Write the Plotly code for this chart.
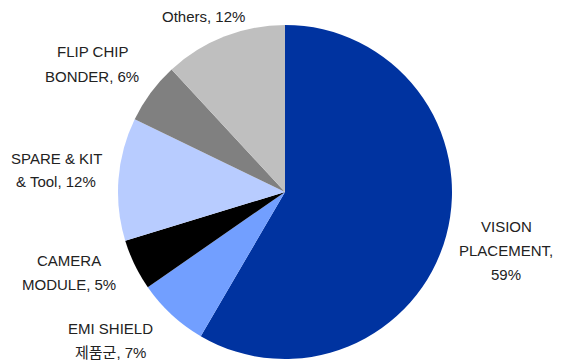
import plotly.graph_objects as go

labels = ["VISION PLACEMENT", "EMI SHIELD 제품군", "CAMERA MODULE", "SPARE & KIT & Tool", "FLIP CHIP BONDER", "Others"]
values = [59, 7, 5, 12, 6, 12]
label_lines = [
    ["VISION", "PLACEMENT,", "59%"],
    ["EMI SHIELD", "제품군, 7%"],
    ["CAMERA", "MODULE, 5%"],
    ["SPARE & KIT", "& Tool, 12%"],
    ["FLIP CHIP", "BONDER, 6%"],
    ["Others, 12%"],
]
colors = ["#0033A0", "#729FFF", "#000000", "#B8CCFF", "#808080", "#BFBFBF"]

W, H = 562, 361
# label block centers in pixels (layout only)
label_pos = [(506, 250), (110, 340), (69, 272), (56, 170), (92, 64), (203, 16)]
line_gap = 24

fig = go.Figure(go.Pie(
    labels=labels, values=values, sort=False, direction="clockwise", rotation=0,
    marker=dict(colors=colors, line=dict(width=0)),
    textinfo="none", hoverinfo="label+percent",
    domain=dict(x=[118 / W, 452 / W], y=[2 / H, 336 / H]),
    showlegend=False,
))

annotations = []
for lines, (cx, cy) in zip(label_lines, label_pos):
    n = len(lines)
    for i, t in enumerate(lines):
        py = cy + (i - (n - 1) / 2) * line_gap
        annotations.append(dict(
            x=cx / W, y=1 - py / H, xref="paper", yref="paper",
            text=t, showarrow=False, xanchor="center", yanchor="middle",
            font=dict(size=15, color="#222222",
                      family="Liberation Sans, Arial, Noto Sans CJK KR, sans-serif"),
        ))

fig.update_layout(
    width=W, height=H, margin=dict(l=0, r=0, t=0, b=0),
    paper_bgcolor="white", plot_bgcolor="white",
    annotations=annotations,
)
fig.write_html("out.html")
